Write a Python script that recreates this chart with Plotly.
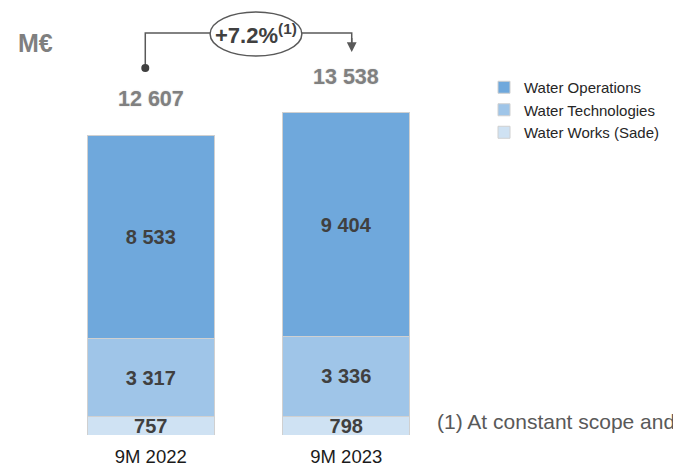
import plotly.graph_objects as go

categories = ["9M 2022", "9M 2023"]
water_works = [757, 798]
water_tech = [3317, 3336]
water_ops = [8533, 9404]
totals = [12607, 13538]
growth_label = "+7.2%<sup>(1)</sup>"
unit_label = "M€"
footnote = "(1) At constant scope and exchange rates"

series = [
    ("Water Works (Sade)", water_works, "#cfe2f3"),
    ("Water Technologies", water_tech, "#9fc5e8"),
    ("Water Operations", water_ops, "#6fa8dc"),
]

def fmt(v):
    return f"{v:,}".replace(",", " ")

FONT = "Liberation Sans, Arial, sans-serif"

W, H = 673, 465
ML, MR, MT, MB = 52.5, 228.5, 10, 30
PW, PH = W - ML - MR, H - MT - MB
YMAX = 17860

fig = go.Figure()
for i, (name, vals, col) in enumerate(series):
    fig.add_trace(go.Bar(
        x=categories, y=vals, name=name,
        marker=dict(color=col, line=dict(color="#d0d0d0", width=1)),
        text=[fmt(v) for v in vals],
        textposition="inside", insidetextanchor="middle",
        textfont=dict(family=FONT, size=20, color="#404040", weight="bold"),
        width=0.648, legendgroup=name,
        hoverinfo="skip",
    ))

# totals
for i, t in enumerate(totals):
    fig.add_annotation(x=i, y=t, xref="x", yref="y", text=fmt(t), showarrow=False,
                       yshift=36, font=dict(family=FONT, size=21.5, color="#808080", weight="bold",
                                            shadow="0px 0px 1.5px #c8c8c8"))

# growth arrow (data coordinates)
xl, xr = -0.028, 1.028
y_dot, y_line, y_tip = 15423, 16894, 16095
ex0, ex1, ey0, ey1 = 0.3036, 0.773, 15927, 17776
lc = "#595959"
fig.add_shape(type="path", path=f"M {xl} {y_dot} L {xl} {y_line} L {xr} {y_line} L {xr} {y_tip+250}",
              xref="x", yref="y", line=dict(color=lc, width=1.5), layer="above")
fig.add_shape(type="circle", x0=ex0, x1=ex1, y0=ey0, y1=ey1, xref="x", yref="y",
              line=dict(color=lc, width=1.5), fillcolor="white", layer="above")
fig.add_shape(type="circle", xref="x", yref="y", xsizemode="pixel", ysizemode="pixel",
              xanchor=xl, yanchor=y_dot, x0=-4, x1=4, y0=-4, y1=4,
              fillcolor="#404040", line=dict(color="#404040", width=0), layer="above")
fig.add_annotation(x=xr, y=y_tip, ax=xr, ay=y_line - 150, xref="x", yref="y", axref="x", ayref="y",
                   text="", showarrow=True, arrowhead=2, arrowsize=1.3, arrowwidth=1.5, arrowcolor=lc)
fig.add_annotation(x=(ex0 + ex1) / 2, y=(ey0 + ey1) / 2, xref="x", yref="y", text=growth_label,
                   showarrow=False,
                   font=dict(family=FONT, size=22, color="#404040", weight="bold"))

# unit label and footnote
fig.add_annotation(xref="paper", yref="paper", x=(35 - ML) / PW, y=(H - MB - 43) / PH,
                   text=unit_label, showarrow=False, xanchor="center", yanchor="middle",
                   font=dict(family=FONT, size=25, color="#7f7f7f", weight="bold"))
fig.add_annotation(xref="paper", yref="paper", x=(435 - ML) / PW, y=(H - MB - 421) / PH,
                   text=footnote, showarrow=False, xanchor="left", yanchor="middle",
                   font=dict(family=FONT, size=21, color="#595959"))

fig.update_layout(
    width=W, height=H,
    margin=dict(l=ML, r=MR, t=MT, b=MB, autoexpand=False),
    paper_bgcolor="white", plot_bgcolor="white",
    barmode="stack",
    showlegend=True,
    legend=dict(traceorder="reversed", xref="container", yref="container", x=484 / W, y=1 - 71 / H,
                xanchor="left", yanchor="top", font=dict(family=FONT, size=15, color="#262626"),
                tracegroupgap=10.5, itemwidth=30, bgcolor="rgba(0,0,0,0)"),
    xaxis=dict(range=[-0.5, 1.5], showgrid=False, showline=False, zeroline=False, automargin=False,
               ticks="outside", ticklen=5, tickcolor="rgba(0,0,0,0)",
               tickfont=dict(family=FONT, size=18.5, color="#1a1a1a")),
    yaxis=dict(range=[0, YMAX], visible=False, automargin=False),
    uniformtext=dict(minsize=20, mode="show"),
    font=dict(family=FONT),
)

fig.write_html("out.html", config={"displayModeBar": False},
               post_script="document.body.style.margin='0';")
